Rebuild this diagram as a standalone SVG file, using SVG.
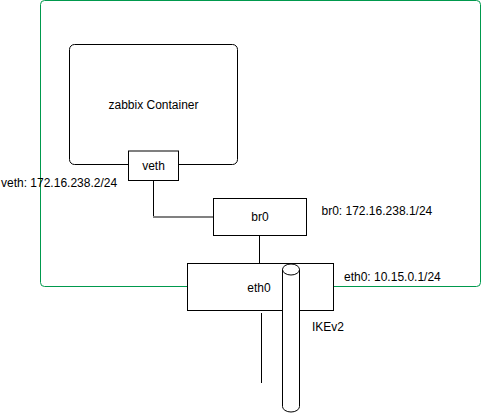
<svg xmlns="http://www.w3.org/2000/svg" width="493" height="413" viewBox="0 0 493 413">
<style>
text{font-family:"Liberation Sans",Arial,sans-serif;font-size:12px;fill:#000}
.c{text-anchor:middle;dominant-baseline:central}
.l{dominant-baseline:central}
.box{fill:#fff;stroke:#000;stroke-width:1}
.ln{fill:none;stroke:#000;stroke-width:1}
</style>
<rect width="493" height="413" fill="#fff"/>
<g id="host"><rect x="40.5" y="0.5" width="440" height="286" rx="4" fill="#fff" stroke="#00994D" stroke-width="1"/></g>
<g id="container"><rect class="box" x="69.5" y="44.5" width="168" height="120" rx="5"/><text class="c" x="153.5" y="105">zabbix Container</text></g>
<g id="connectors">
<path class="ln" d="M153.5 180.5V217"/>
<path d="M153 217H213" stroke="#808080" stroke-width="2" fill="none"/>
<path class="ln" d="M259.5 235.5V263.5"/>
<path class="ln" d="M261.5 313V383"/>
</g>
<g id="veth"><rect class="box" x="128.5" y="151" width="50" height="29.5"/><text class="c" x="153.5" y="165.5">veth</text></g>
<g id="br0"><rect class="box" x="213.5" y="198.5" width="93" height="37"/><text class="c" x="260" y="217">br0</text></g>
<g id="eth0"><rect class="box" x="187.5" y="263.5" width="146" height="47"/><text class="c" x="259" y="288">eth0</text></g>
<g id="ikev2"><path class="box" d="M282.5 269.5A8.5 5.5 0 0 1 299.5 269.5V406.5A8.5 5.5 0 0 1 282.5 406.5Z"/><path class="ln" d="M282.5 269.5A8.5 5.5 0 0 0 299.5 269.5"/></g>
<g id="labels">
<text class="l" x="1" y="183">veth: 172.16.238.2/24</text>
<text class="l" x="321.5" y="211">br0: 172.16.238.1/24</text>
<text class="l" x="344" y="276.5">eth0: 10.15.0.1/24</text>
<text class="l" x="312" y="327">IKEv2</text>
</g>
</svg>
